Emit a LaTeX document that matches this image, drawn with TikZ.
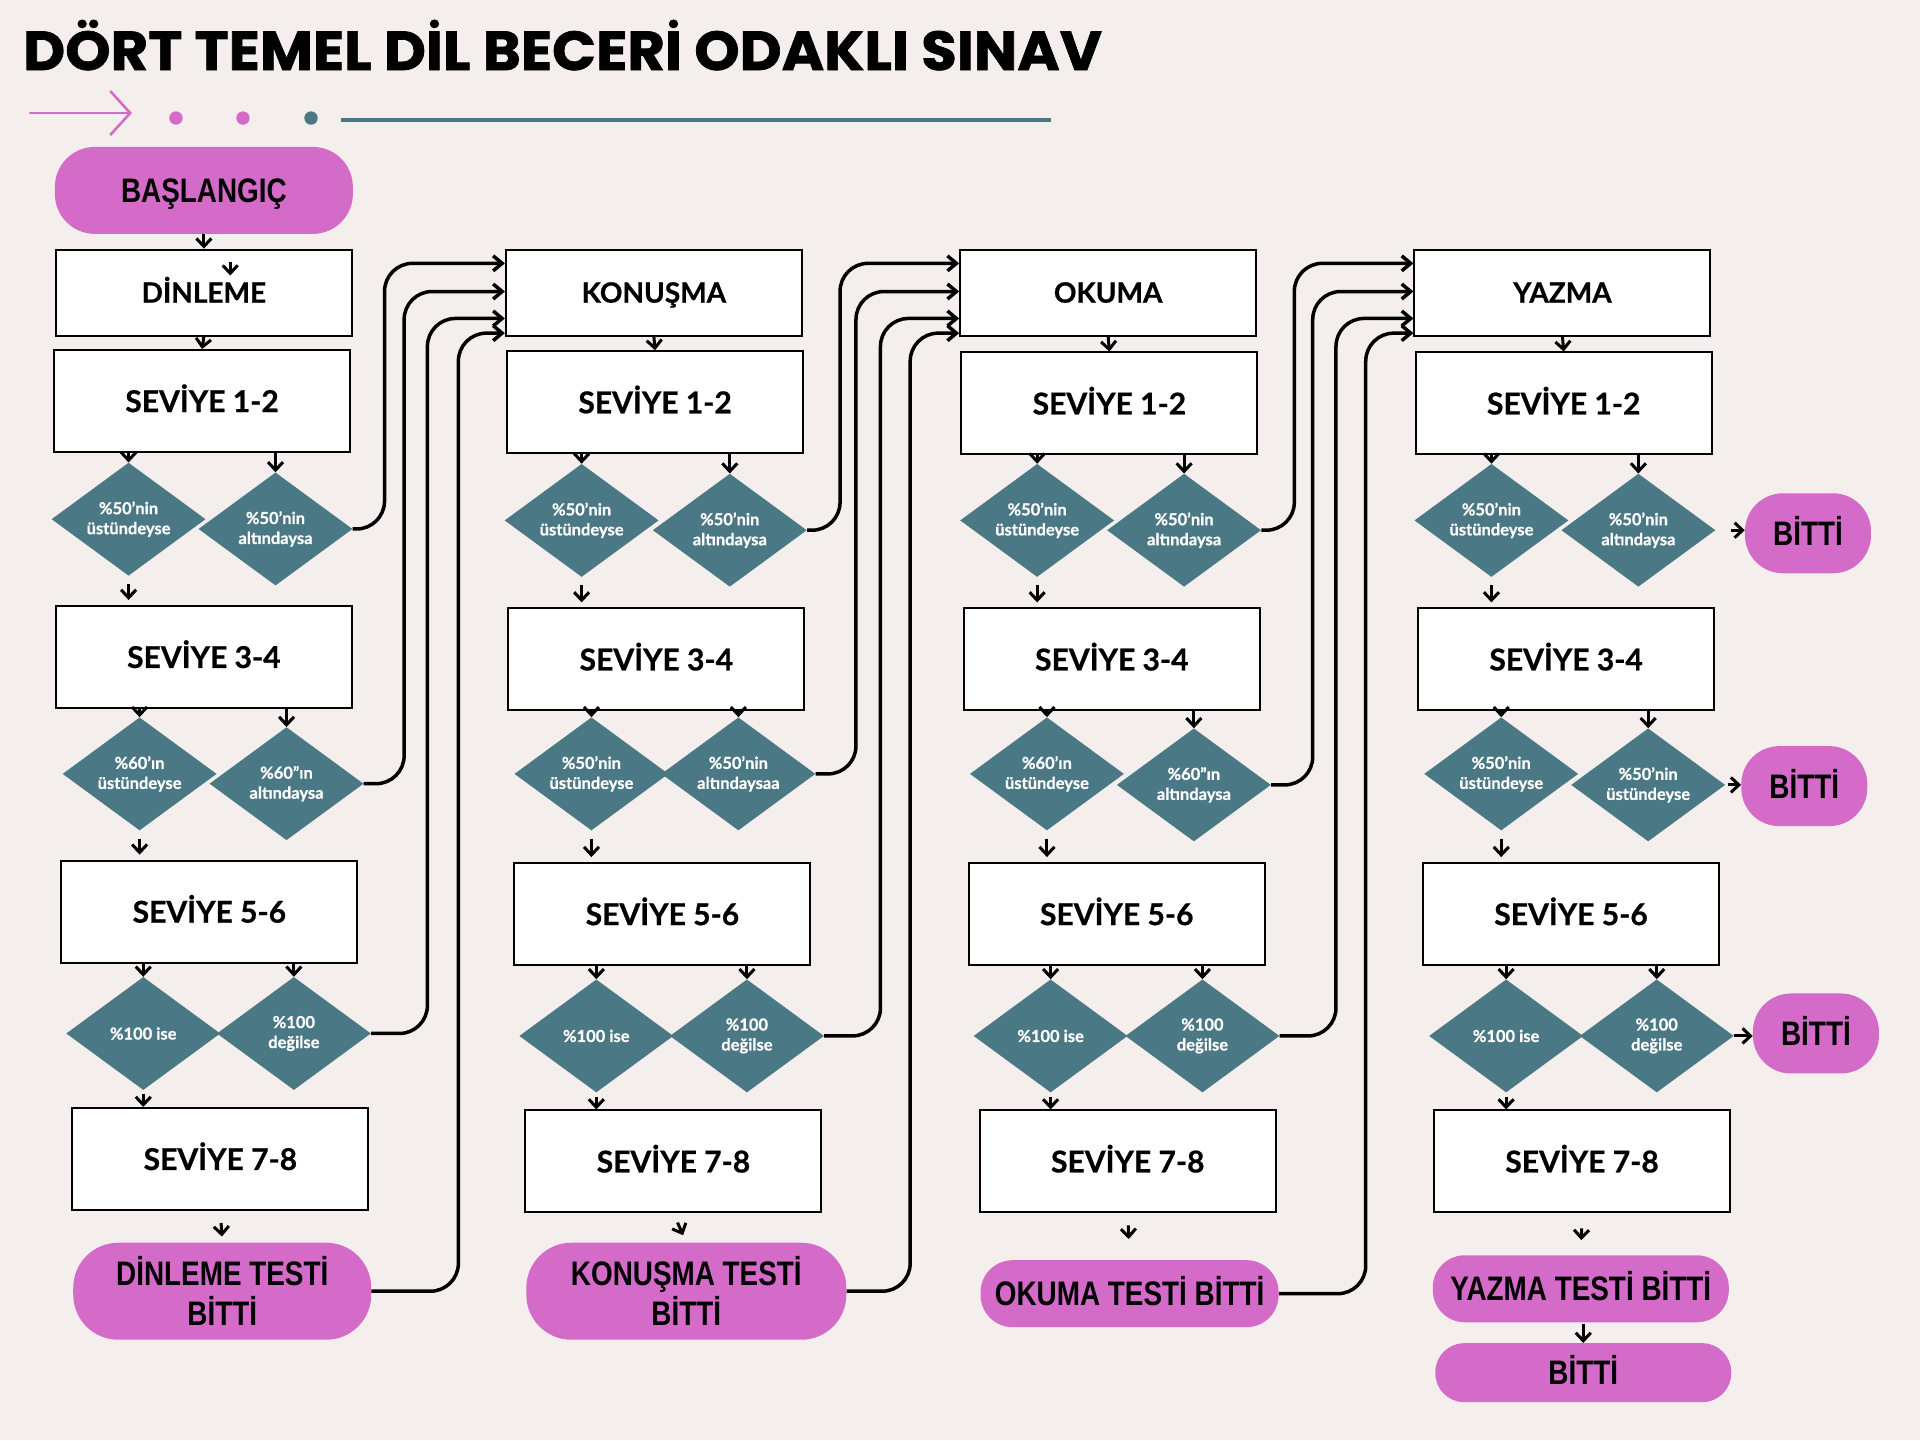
\documentclass[tikz,border=0pt]{standalone}
\usepackage{fontspec}
\setmainfont{Lato}[BoldFeatures={FakeBold=0.7}]
\newfontfamily\titlefamily{Poppins}[FakeStretch=1.05, BoldFeatures={FakeBold=1.2}]
\newfontfamily\pillfamily{Liberation Sans}[FakeStretch=0.82]
\usepackage{xcolor}
\usepackage{tikz}
\usetikzlibrary{arrows.meta, shapes.geometric, calc}
\definecolor{paper}{HTML}{F4EFED}
\definecolor{orchid}{HTML}{D46BC9}
\definecolor{slate}{HTML}{4A7884}
\tikzset{
box/.style = {rectangle, draw=black, line width=2pt, fill=white, minimum width=296pt, minimum height=#1, inner sep=0pt, text height=22pt, text depth=0pt, font={\fontsize{30}{36}\selectfont\bfseries}},
box/.default = 102pt, % level boxes
headbox/.style = {box=86pt, text height=20pt, font={\fontsize{28}{34}\selectfont\bfseries}},
choice/.style = {diamond, aspect=1.4, fill=slate, text=white, minimum width=154pt, minimum height=113pt, inner sep=0pt, align=center, font={\fontsize{16.5}{20}\selectfont\bfseries}},
pill/.style = {rectangle, fill=orchid, rounded corners=#1, inner sep=0pt, align=center, font={\pillfamily\fontsize{34}{40}\selectfont\bfseries}},
pill/.default = 32pt,
pillline/.style = {pill=#1, text height=24pt, text depth=0pt},
pillline/.default = 32pt,
stub/.style = {line width=3pt, -{Straight Barb[length=8pt,width=15pt]}},
link/.style = {line width=3.5pt, rounded corners=28pt, -{Straight Barb[length=9pt,width=15pt]}},
}

\begin{document}
\begin{tikzpicture}[x=1.2245pt, y=-1.2245pt]

    \useasboundingbox (0,0) rectangle (1568,1176);
    \fill[paper] (0,0) rectangle (1568,1176);

    % title and ornament
    \node[anchor=base west, inner sep=0pt, font={\titlefamily\fontsize{55}{60}\selectfont\bfseries}] (title) at (18.8,57.2) {DÖRT TEMEL DİL BECERİ ODAKLI SINAV};
    \draw[orchid, line width=2.6pt, line cap=round, -{Straight Barb[length=20pt,width=44pt]}] (24.5,92.3) -- (107.8,92.3);
    \fill[orchid] (143.7,96.4) circle (6.7pt);
    \fill[orchid] (198.4,96.4) circle (6.7pt);
    \fill[slate] (254,96.4) circle (6.7pt);
    \draw[slate, line width=3.5pt] (278.5,98) -- (858,98);

    % DINLEME
    \node[pillline=40pt, minimum width=298pt, minimum height=87pt] (start) at (166.5,155.5) {BAŞLANGIÇ};
    \node[headbox] (dinleme) at (166.5,239) {DİNLEME};
    \node[box] (s12a) at (165,327.5) {SEVİYE 1-2};
    \node[choice] (d1al) at (105,424) {\%50'nin\\üstündeyse};
    \node[choice] (d1ar) at (225,432) {\%50'nin\\altındaysa};
    \node[box] (s34a) at (166.5,536.5) {SEVİYE 3-4};
    \node[choice] (d2al) at (114,632) {\%60'ın\\üstündeyse};
    \node[choice] (d2ar) at (234,640) {\%60''ın\\altındaysa};
    \node[box] (s56a) at (171,744.5) {SEVİYE 5-6};
    \node[choice] (d3al) at (117,844) {\%100 ise};
    \node[choice] (d3ar) at (240,844) {\%100\\değilse};
    \node[box] (s78a) at (180,946.5) {SEVİYE 7-8};
    \node[pill=45pt, minimum width=298pt, minimum height=97pt] (enda) at (181.5,1054.5) {DİNLEME TESTİ\\BİTTİ};

    % KONUSMA
    \node[headbox] (konusma) at (534,239) {KONUŞMA};
    \node[box] (s12b) at (535,328.5) {SEVİYE 1-2};
    \node[choice] (d1bl) at (475,425) {\%50'nin\\üstündeyse};
    \node[choice] (d1br) at (596,433) {\%50'nin\\altındaysa};
    \node[box] (s34b) at (536,538.5) {SEVİYE 3-4};
    \node[choice] (d2bl) at (483,632) {\%50'nin\\üstündeyse};
    \node[choice] (d2br) at (603,632) {\%50'nin\\altındaysaa};
    \node[box] (s56b) at (541,746.5) {SEVİYE 5-6};
    \node[choice] (d3bl) at (487,846) {\%100 ise};
    \node[choice] (d3br) at (610,846) {\%100\\değilse};
    \node[box] (s78b) at (550,948.5) {SEVİYE 7-8};
    \node[pill=45pt, minimum width=320pt, minimum height=97pt] (endb) at (560.5,1054.5) {KONUŞMA TESTİ\\BİTTİ};

    % OKUMA
    \node[headbox] (okuma) at (905,239) {OKUMA};
    \node[box] (s12c) at (906,329.5) {SEVİYE 1-2};
    \node[choice] (d1cl) at (847,425) {\%50'nin\\üstündeyse};
    \node[choice] (d1cr) at (967,433) {\%50'nin\\altındaysa};
    \node[box] (s34c) at (908,538.5) {SEVİYE 3-4};
    \node[choice] (d2cl) at (855,632) {\%60'ın\\üstündeyse};
    \node[choice] (d2cr) at (975,641) {\%60''ın\\altındaysa};
    \node[box] (s56c) at (912,746.5) {SEVİYE 5-6};
    \node[choice] (d3cl) at (858,846) {\%100 ise};
    \node[choice] (d3cr) at (982,846) {\%100\\değilse};
    \node[box] (s78c) at (921,948.5) {SEVİYE 7-8};
    \node[pillline, minimum width=298pt, minimum height=67pt] (endc) at (922.5,1056.5) {OKUMA TESTİ BİTTİ};

    % YAZMA
    \node[headbox] (yazma) at (1276,239) {YAZMA};
    \node[box] (s12d) at (1277,329.5) {SEVİYE 1-2};
    \node[choice] (d1dl) at (1218,425) {\%50'nin\\üstündeyse};
    \node[choice] (d1dr) at (1338,433) {\%50'nin\\altındaysa};
    \node[pillline=38pt, minimum width=126pt, minimum height=80pt] (bitti1) at (1476.5,435.5) {BİTTİ};
    \node[box] (s34d) at (1279,538.5) {SEVİYE 3-4};
    \node[choice] (d2dl) at (1226,632) {\%50'nin\\üstündeyse};
    \node[choice] (d2dr) at (1346,641) {\%50'nin\\üstündeyse};
    \node[pillline=38pt, minimum width=126pt, minimum height=80pt] (bitti2) at (1473.5,642) {BİTTİ};
    \node[box] (s56d) at (1283,746.5) {SEVİYE 5-6};
    \node[choice] (d3dl) at (1230,846) {\%100 ise};
    \node[choice] (d3dr) at (1353,846) {\%100\\değilse};
    \node[pillline=38pt, minimum width=126pt, minimum height=80pt] (bitti3) at (1483,844) {BİTTİ};
    \node[box] (s78d) at (1292,948.5) {SEVİYE 7-8};
    \node[pillline, minimum width=296pt, minimum height=67pt] (endd) at (1291,1052.5) {YAZMA TESTİ BİTTİ};
    \node[pillline=29pt, minimum width=296pt, minimum height=59pt] (fin) at (1293,1121) {BİTTİ};

    % short arrows
    \coordinate (stray) at (188,214);
    \draw[stub] (start.south) -- (dinleme.north);
    \draw[stub] (stray) -- ++(0,11);
    \draw[stub] (dinleme.south) -- (s12a.north);
    \draw[stub] (konusma.south) -- (s12b.north);
    \draw[stub] (okuma.south) -- (s12c.north);
    \draw[stub] (yazma.south) -- (s12d.north);

    \draw[stub] (s12a.south -| d1al) -- (d1al.north);
    \draw[stub] (s12a.south -| d1ar) -- (d1ar.north);
    \draw[stub, shorten <=8pt, shorten >=5pt] (d1al.south) -- (s34a.north -| d1al);
    \draw[stub] (s34a.south -| d2al) -- (d2al.north);
    \draw[stub] (s34a.south -| d2ar) -- (d2ar.north);
    \draw[stub, shorten <=8pt, shorten >=5pt] (d2al.south) -- (s56a.north -| d2al);
    \draw[stub] (s56a.south -| d3al) -- (d3al.north);
    \draw[stub] (s56a.south -| d3ar) -- (d3ar.north);
    \draw[stub, shorten <=4pt] (d3al.south) -- (s78a.north -| d3al);
    \draw[stub, shorten <=12pt, shorten >=6pt] (s78a.south) -- (enda.north);

    \draw[stub] (s12b.south -| d1bl) -- (d1bl.north);
    \draw[stub] (s12b.south -| d1br) -- (d1br.north);
    \draw[stub, shorten <=8pt, shorten >=5pt] (d1bl.south) -- (s34b.north -| d1bl);
    \draw[stub] (s34b.south -| d2bl) -- (d2bl.north);
    \draw[stub] (s34b.south -| d2br) -- (d2br.north);
    \draw[stub, shorten <=8pt, shorten >=5pt] (d2bl.south) -- (s56b.north -| d2bl);
    \draw[stub] (s56b.south -| d3bl) -- (d3bl.north);
    \draw[stub] (s56b.south -| d3br) -- (d3br.north);
    \draw[stub, shorten <=4pt] (d3bl.south) -- (s78b.north -| d3bl);
    \draw[stub, shorten <=10pt, shorten >=8pt] (s78b.south) -- (endb.north);

    \draw[stub] (s12c.south -| d1cl) -- (d1cl.north);
    \draw[stub] (s12c.south -| d1cr) -- (d1cr.north);
    \draw[stub, shorten <=8pt, shorten >=5pt] (d1cl.south) -- (s34c.north -| d1cl);
    \draw[stub] (s34c.south -| d2cl) -- (d2cl.north);
    \draw[stub] (s34c.south -| d2cr) -- (d2cr.north);
    \draw[stub, shorten <=8pt, shorten >=5pt] (d2cl.south) -- (s56c.north -| d2cl);
    \draw[stub] (s56c.south -| d3cl) -- (d3cl.north);
    \draw[stub] (s56c.south -| d3cr) -- (d3cr.north);
    \draw[stub, shorten <=4pt] (d3cl.south) -- (s78c.north -| d3cl);
    \draw[stub, shorten <=12pt, shorten >=21pt] (s78c.south) -- (endc.north);

    \draw[stub] (s12d.south -| d1dl) -- (d1dl.north);
    \draw[stub] (s12d.south -| d1dr) -- (d1dr.north);
    \draw[stub, shorten <=15pt] (d1dr.east) -- (d1dr.east -| bitti1.west);
    \draw[stub, shorten <=8pt, shorten >=5pt] (d1dl.south) -- (s34d.north -| d1dl);
    \draw[stub] (s34d.south -| d2dl) -- (d2dl.north);
    \draw[stub] (s34d.south -| d2dr) -- (d2dr.north);
    \draw[stub, shorten <=3pt] (d2dr.east) -- (d2dr.east -| bitti2.west);
    \draw[stub, shorten <=8pt, shorten >=5pt] (d2dl.south) -- (s56d.north -| d2dl);
    \draw[stub] (s56d.south -| d3dl) -- (d3dl.north);
    \draw[stub] (s56d.south -| d3dr) -- (d3dr.north);
    \draw[stub] (d3dr.east) -- (d3dr.east -| bitti3.west);
    \draw[stub, shorten <=4pt] (d3dl.south) -- (s78d.north -| d3dl);
    \draw[stub, shorten <=15pt, shorten >=15pt] (s78d.south) -- (endd.north);
    \draw[stub, shorten <=2pt] (endd.south -| fin) -- (fin.north);

    % back to the next skill
    \draw[link] (d1ar.east) -- ++(26,0) |- ($(konusma.north west)+(0,12)$);
    \draw[link] (d2ar.east) -- ++(33,0) |- ($(konusma.north west)+(0,35)$);
    \draw[link] (d3ar.east) -- ++(46,0) |- ($(konusma.north west)+(0,57)$);
    \draw[link] (enda.east) -- ++(71,0) |- ($(konusma.north west)+(0,69)$);

    \draw[link] (d1br.east) -- ++(27,0) |- ($(okuma.north west)+(0,12)$);
    \draw[link] (d2br.east) -- ++(33,0) |- ($(okuma.north west)+(0,35)$);
    \draw[link] (d3br.east) -- ++(46,0) |- ($(okuma.north west)+(0,57)$);
    \draw[link] (endb.east) -- ++(52,0) |- ($(okuma.north west)+(0,69)$);

    \draw[link] (d1cr.east) -- ++(27,0) |- ($(yazma.north west)+(0,12)$);
    \draw[link] (d2cr.east) -- ++(34,0) |- ($(yazma.north west)+(0,35)$);
    \draw[link] (d3cr.east) -- ++(46,0) |- ($(yazma.north west)+(0,57)$);
    \draw[link] (endc.east) -- ++(71,0) |- ($(yazma.north west)+(0,69)$);

\end{tikzpicture}
\end{document}
